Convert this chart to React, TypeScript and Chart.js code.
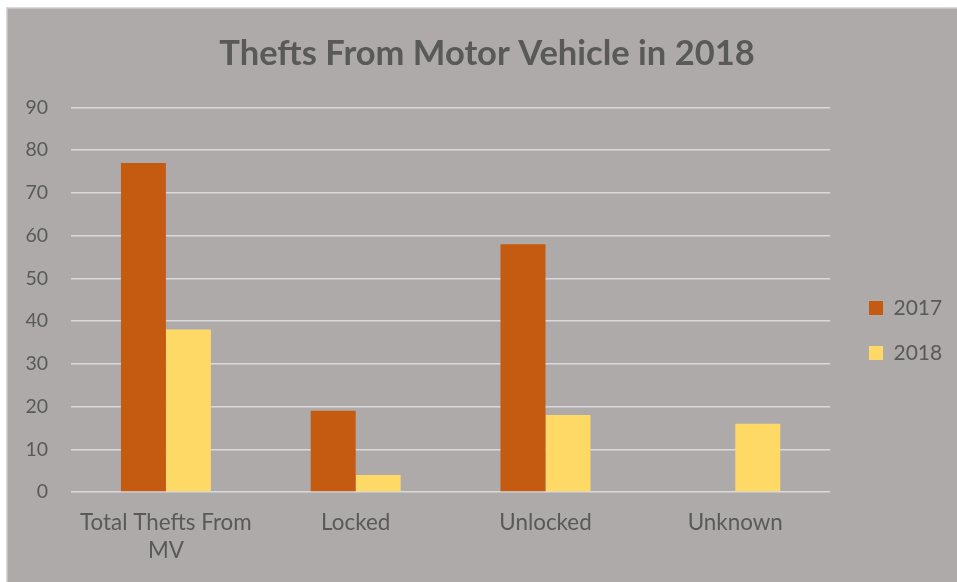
import React, { useEffect, useRef } from "react";
import { Chart, registerables } from "chart.js";

Chart.register(...registerables);

const categories: (string | string[])[] = [["Total Thefts From", "MV"], "Locked", "Unlocked", "Unknown"];
const seriesNames = ["2017", "2018"];
const values2017 = [77, 19, 58, 0];
const values2018 = [38, 4, 18, 16];
const yTicksMin = 0;
const yTicksMax = 90;
const yTickStep = 10;
const titleText = "Thefts From Motor Vehicle in 2018";

const BG = "#AEAAAA";
const TEXT = "#595959";
const GRID = "#D9D9D9";
const FONT = "Lato";

const bgPlugin = {
  id: "bgPlugin",
  beforeDraw(chart: any) {
    const { ctx, width, height } = chart;
    ctx.save();
    ctx.fillStyle = BG;
    ctx.fillRect(0, 0, width, height);
    ctx.strokeStyle = GRID;
    ctx.lineWidth = 1.5;
    ctx.beginPath();
    ctx.moveTo(0.75, height);
    ctx.lineTo(0.75, 0.75);
    ctx.lineTo(width, 0.75);
    ctx.stroke();
    ctx.restore();
  },
};

const boxPos = {
  id: "boxPos",
  afterLayout(chart: any) {
    const lg = chart.legend;
    if (lg) {
      const w = lg.width;
      lg.left = 839;
      lg.right = 839 + w;
      const mid = 323.5;
      lg.top = mid - 200;
      lg.bottom = mid + 200;
      lg.height = 400;
    }
    const tb = chart.titleBlock;
    if (tb) {
      tb.left = 12;
      tb.right = 950;
      tb.width = 938;
    }
  },
};

export default function App() {
  const ref = useRef<HTMLCanvasElement | null>(null);
  useEffect(() => {
    if (!ref.current) return;
    const chart = new Chart(ref.current, {
      type: "bar",
      data: {
        labels: categories,
        datasets: [
          { label: seriesNames[0], data: values2017, backgroundColor: "#C55A11", borderWidth: 0 },
          { label: seriesNames[1], data: values2018, backgroundColor: "#FFD966", borderWidth: 0 },
        ],
      },
      options: {
        animation: false,
        responsive: false,
        maintainAspectRatio: false,
        layout: { padding: { left: 0, right: 19.6, top: 0, bottom: 17 } },
        datasets: { bar: { categoryPercentage: 0.474, barPercentage: 1 } },
        plugins: {
          title: {
            display: true,
            text: titleText,
            color: TEXT,
            font: { family: FONT, size: 34.5, weight: "bold", lineHeight: 1.2 },
            padding: { top: 26, bottom: 33 },
          },
          legend: {
            display: true,
            position: "right",
            labels: {
              color: TEXT,
              font: { family: FONT, size: 21 },
              boxWidth: 14,
              boxHeight: 14,
              padding: 24,
            },
          },
          tooltip: { enabled: false },
        },
        scales: {
          x: {
            grid: { display: false, drawTicks: false },
            border: { display: false },
            ticks: {
              color: TEXT,
              font: { family: FONT, size: 22.4, lineHeight: 1.25 },
              padding: 17,
              maxRotation: 0,
              autoSkip: false,
            },
            afterFit(scale: any) {
              scale.height = 73;
              scale.paddingLeft = 0;
              scale.paddingRight = 0;
            },
          },
          y: {
            min: yTicksMin,
            max: yTicksMax,
            grid: { color: GRID, lineWidth: 1.5, drawTicks: false },
            border: { display: false },
            ticks: {
              stepSize: yTickStep,
              color: TEXT,
              font: { family: FONT, size: 19.5 },
              padding: 23,
            },
            afterFit(scale: any) {
              scale.width = 65;
            },
          },
        },
      },
      plugins: [bgPlugin, boxPos],
    });
    return () => chart.destroy();
  }, []);
  return (
    <div style={{ position: "absolute", left: 6, top: 7, width: 951, height: 575 }}>
      <canvas ref={ref} width={951} height={575} style={{ display: "block", width: 951, height: 575 }} />
    </div>
  );
}
